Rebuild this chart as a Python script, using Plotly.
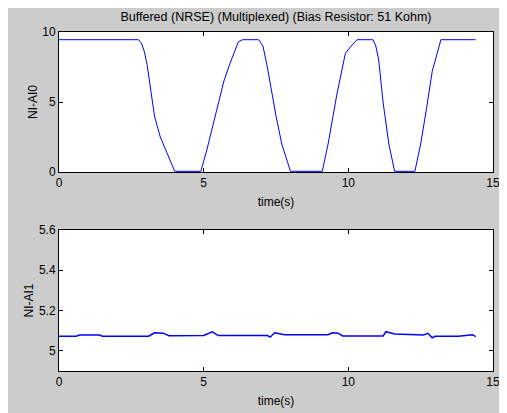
import plotly.graph_objects as go
from plotly.subplots import make_subplots

# NI-AI0 trace (time in s, volts)
t0 = [0, 0.4, 0.45, 0.5, 1.0, 1.8, 2.75, 2.85, 2.95, 3.05, 3.15, 3.3, 3.5, 3.8, 4.0, 4.9,
      5.1, 5.4, 5.7, 5.9, 6.2, 6.35, 6.9, 7.05, 7.2, 7.5, 7.7, 7.9, 8.0, 9.1, 9.3, 9.6,
      9.9, 10.1, 10.3, 10.85, 10.95, 11.05, 11.2, 11.4, 11.6, 12.3, 12.5, 12.7, 12.9,
      13.2, 14.4]
v0 = [9.45, 9.45, 9.5, 9.45, 9.5, 9.45, 9.45, 9.2, 8.6, 7.6, 6.2, 4.0, 2.5, 1.0, 0.05, 0.05,
      1.5, 4.0, 6.5, 7.7, 9.3, 9.45, 9.45, 9.0, 7.5, 4.0, 2.0, 0.7, 0.05, 0.05, 2.0, 5.5,
      8.5, 9.0, 9.45, 9.45, 9.0, 8.0, 5.0, 2.0, 0.05, 0.05, 2.0, 4.5, 7.2,
      9.45, 9.45]

# NI-AI1 trace
t1 = [0, 0.6, 0.7, 1.4, 1.5, 3.1, 3.3, 3.6, 3.8, 5.0, 5.3, 5.5, 7.2, 7.3, 7.45, 7.8,
      9.3, 9.45, 9.65, 9.8, 11.2, 11.3, 11.6, 12.6, 12.75, 12.9, 13.0, 13.8, 14.3, 14.4]
v1 = [5.073, 5.073, 5.079, 5.079, 5.073, 5.073, 5.09, 5.088, 5.075, 5.076, 5.094, 5.076, 5.076, 5.068, 5.09, 5.08,
      5.08, 5.09, 5.088, 5.074, 5.074, 5.095, 5.084, 5.079, 5.087, 5.065, 5.072, 5.073, 5.08, 5.07]

W, H = 507, 413

fig = make_subplots(rows=2, cols=1)
fig.add_trace(go.Scatter(x=t0, y=v0, mode="lines", line=dict(color="#0000ff", width=1)), row=1, col=1)
fig.add_trace(go.Scatter(x=t1, y=v1, mode="lines", line=dict(color="#0000ff", width=1.5)), row=2, col=1)

ax = dict(showgrid=False, zeroline=False, showline=True, linecolor="black", linewidth=1,
          mirror="ticks", ticks="inside", ticklen=4, tickcolor="black", automargin=False,
          tickfont=dict(size=12, color="black"))
fig.update_xaxes(**ax, range=[0, 15], tickvals=[0, 5, 10, 15], domain=[51 / W, 485 / W],
                 title=dict(text="time(s)", standoff=8, font=dict(size=12, color="black")))
fig.update_yaxes(**ax)
fig.update_yaxes(range=[0, 10], tickvals=[0, 5, 10], domain=[1 - 164 / H, 1 - 24 / H], row=1, col=1,
                 title=dict(text="NI-AI0", standoff=2, font=dict(size=12, color="black")))
fig.update_yaxes(range=[4.9, 5.6], tickvals=[5, 5.2, 5.4, 5.6], ticktext=["5", "5.2", "5.4", "5.6"],
                 domain=[1 - 363 / H, 1 - 222 / H], row=2, col=1,
                 title=dict(text="NI-AI1", standoff=2, font=dict(size=12, color="black")))

fig.update_layout(
    width=W, height=H, margin=dict(l=0, r=0, t=0, b=0, autoexpand=False),
    paper_bgcolor="#cccccc", plot_bgcolor="white", showlegend=False,
    font=dict(family="Liberation Sans, Arial", size=12, color="black"),
    title=dict(text="Buffered (NRSE) (Multiplexed) (Bias Resistor: 51 Kohm)",
               x=268 / W, xanchor="center", y=1 - 9 / H, yanchor="middle", font=dict(size=12.5)),
)
fig.write_html("out.html")
